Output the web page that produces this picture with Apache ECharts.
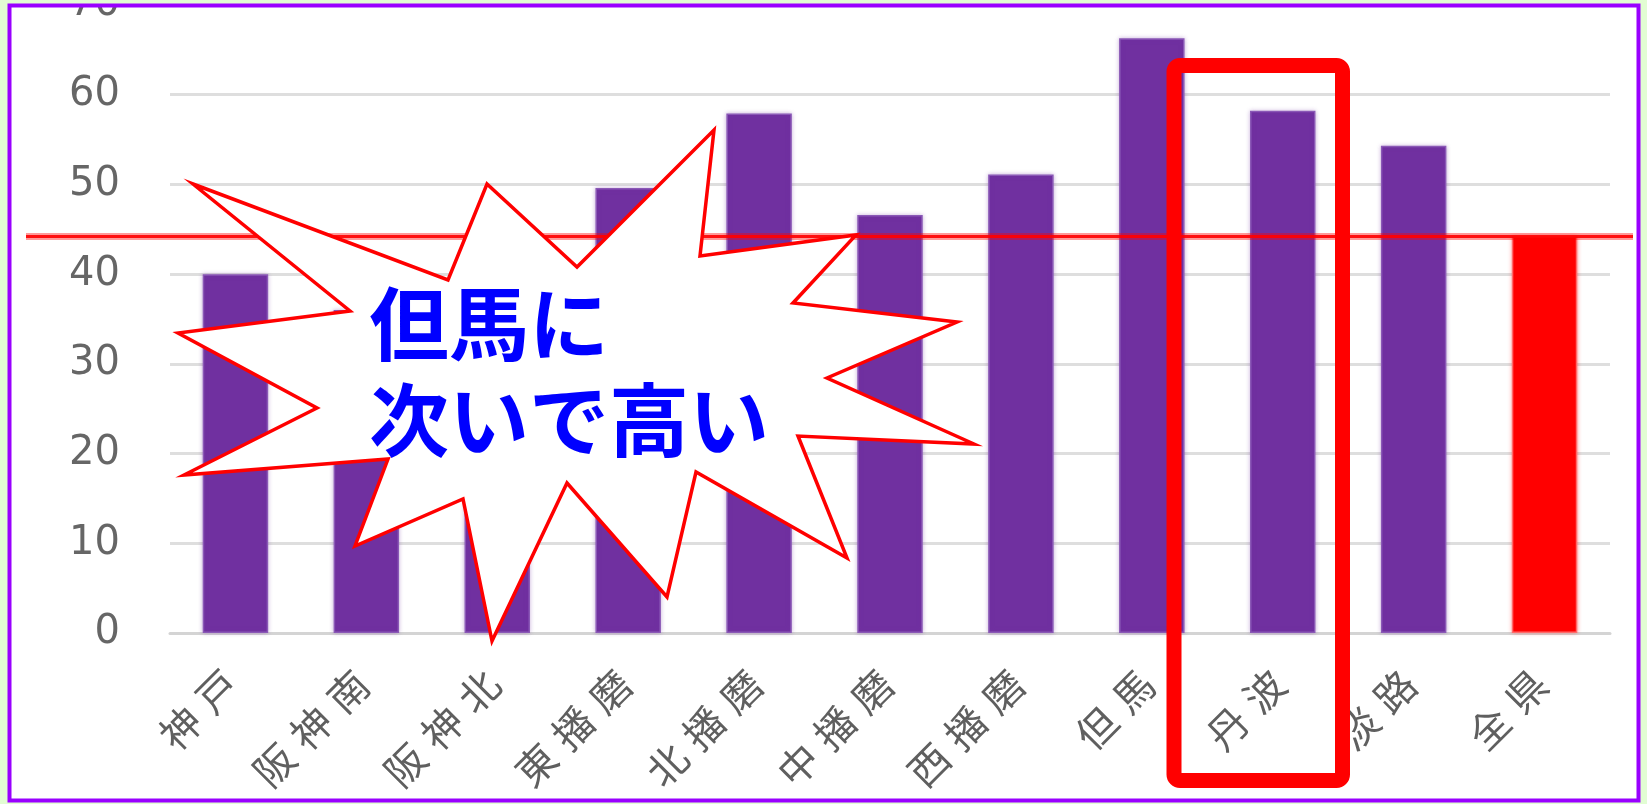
<!DOCTYPE html>
<html>
<head>
<meta charset="utf-8">
<script src="https://cdn.jsdelivr.net/npm/echarts@6/dist/echarts.min.js"></script>
<style>
  html, body { margin: 0; padding: 0; background: #ffffff; }
  #chart { width: 1647px; height: 804px; }
</style>
</head>
<body>
<div id="chart"></div>
<script>
// Regions of the prefecture and their values
const categories = ['神戸', '阪神南', '阪神北', '東播磨', '北播磨', '中播磨', '西播磨', '但馬', '丹波', '淡路', '全県'];
const values = [40.0, 36.0, 42.0, 49.6, 57.9, 46.6, 51.1, 66.3, 58.2, 54.3, 44.2];
const prefectureAverage = 44.2;
const yTickMin = 0;
const yTickMax = 70;
const yTickStep = 10;
const totalLabel = '全県';
const calloutLines = ['但馬に', '次いで高い'];

const regionColor = '#7030A0';
const totalColor = '#FF0000';

const chart = echarts.init(document.getElementById('chart'), null, { renderer: 'canvas' });

const barData = values.map((v, i) => {
  const isTotal = categories[i] === totalLabel;
  return {
    value: v,
    itemStyle: isTotal
      ? { color: totalColor, borderColor: '#ff6a6a', borderWidth: 1.5, shadowColor: 'rgba(255,0,0,0.35)', shadowBlur: 4 }
      : { color: regionColor, borderColor: '#8a58b6', borderWidth: 1.5, shadowColor: 'rgba(112,48,160,0.35)', shadowBlur: 4 }
  };
});

chart.setOption({
  animation: false,
  backgroundColor: '#ffffff',
  grid: { left: 170, right: 37, top: 5, bottom: 171, containLabel: false, outerBoundsMode: 'none' },
  xAxis: {
    type: 'category',
    data: categories,
    axisTick: { show: false },
    axisLine: { show: true, lineStyle: { color: '#d4d4d4', width: 3 } },
    axisLabel: {
      interval: 0,
      rotate: 45,
      margin: 40,
      // each character spaced out a little, as in the category captions
      formatter: (name) => name.split('').map(ch => '{c|' + ch + '}').join(''),
      rich: {
        c: {
          color: '#5f5f5f',
          fontSize: 40,
          fontFamily: '"Noto Sans CJK JP", sans-serif',
          padding: [0, 6, 0, 6]
        }
      }
    }
  },
  yAxis: {
    type: 'value',
    min: yTickMin,
    max: yTickMax,
    interval: yTickStep,
    axisLine: { show: false },
    axisTick: { show: false },
    splitLine: { lineStyle: { color: '#dedede', width: 3 } },
    axisLabel: {
      margin: 50,
      color: '#666666',
      fontSize: 40,
      fontFamily: '"DejaVu Sans", sans-serif'
    }
  },
  series: [{
    type: 'bar',
    data: barData,
    barWidth: '50%',
    z: 2
  }]
});

// Overlay: average line, callout burst, highlight box and frame
const avgY = chart.convertToPixel({ yAxisIndex: 0 }, prefectureAverage);

const burstPoints = [
  [193, 184], [448, 280], [487, 184], [577, 267], [714, 130], [700, 256],
  [856, 235], [793, 303], [957, 322], [827, 378], [974, 444], [798, 436],
  [847, 558], [696, 472], [667, 597], [567, 483], [492, 641], [463, 499],
  [355, 546], [388, 459], [184, 475], [317, 408], [178, 333], [350, 311]
];

const W = 1647, H = 804;
const edge = '#e2fdd3';

chart.setOption({
  graphic: [
    // prefecture average line (soft halo + core)
    { type: 'line', z: 40, shape: { x1: 26, y1: avgY, x2: 1633, y2: avgY },
      style: { stroke: 'rgba(255,0,0,0.4)', lineWidth: 7 } },
    { type: 'line', z: 41, shape: { x1: 26, y1: avgY, x2: 1633, y2: avgY },
      style: { stroke: 'rgba(255,0,0,0.9)', lineWidth: 3 } },
    // burst callout
    { type: 'polygon', z: 60, shape: { points: burstPoints },
      style: { fill: '#ffffff', stroke: '#ff0000', lineWidth: 3.5, lineJoin: 'miter', miterLimit: 20 } },
    { type: 'text', z: 61, x: 369, y: 324,
      style: { text: calloutLines[0], fill: '#0000ff', font: 'bold 80px "Noto Sans CJK JP"', textVerticalAlign: 'middle', textAlign: 'left' } },
    { type: 'text', z: 61, x: 369, y: 420,
      style: { text: calloutLines[1], fill: '#0000ff', font: 'bold 80px "Noto Sans CJK JP"', textVerticalAlign: 'middle', textAlign: 'left' } },
    // highlight box around 丹波
    { type: 'rect', z: 70, shape: { x: 1174, y: 65.5, width: 168.5, height: 715, r: 6 },
      style: { fill: 'none', stroke: '#ff0000', lineWidth: 15 } },
    // outer margin and frame
    { type: 'rect', z: 190, shape: { x: 0, y: 0, width: W, height: 4 }, style: { fill: edge } },
    { type: 'rect', z: 190, shape: { x: 0, y: 802, width: W, height: 2 }, style: { fill: edge } },
    { type: 'rect', z: 190, shape: { x: 0, y: 0, width: 8, height: H }, style: { fill: edge } },
    { type: 'rect', z: 190, shape: { x: 1640, y: 0, width: 7, height: H }, style: { fill: edge } },
    { type: 'rect', z: 200, shape: { x: 9.5, y: 5.5, width: 1629, height: 795 },
      style: { fill: 'none', stroke: '#9900ff', lineWidth: 4 } }
  ]
});
</script>
</body>
</html>
